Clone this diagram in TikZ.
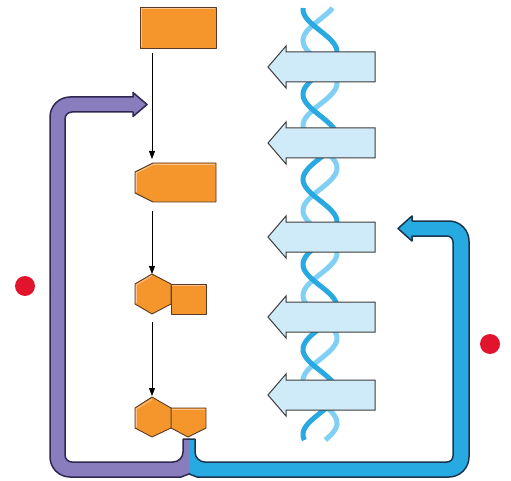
\documentclass[tikz,border=0pt]{standalone}
\usetikzlibrary{arrows.meta}
\definecolor{orng}{HTML}{F4962C}
\definecolor{orngline}{HTML}{5A3A22}
\definecolor{ornghi}{HTML}{FBC48C}
\definecolor{boxfill}{HTML}{CFEBFA}
\definecolor{boxline}{HTML}{3C3C3C}
\definecolor{dnadark}{HTML}{29A9E1}
\definecolor{dnalight}{HTML}{7FD0F4}
\definecolor{purp}{HTML}{8A7DBE}
\definecolor{purpline}{HTML}{2E2850}
\definecolor{blu}{HTML}{27AAE1}
\definecolor{bluline}{HTML}{1B3550}
\definecolor{reddot}{HTML}{E2142D}
\begin{document}
\begin{tikzpicture}[x=1pt,y=-1pt,
  mol/.style={fill=orng, draw=orngline, line width=0.9pt, line join=round},
  hilite/.style={draw=ornghi, line width=0.9pt, line join=round},
  gene/.style={fill=boxfill, draw=boxline, line width=1pt, line join=miter},
  flow/.style={-{Triangle[length=8pt,width=6pt]}, line width=0.8pt, black},
  strand/.style={line width=5pt},
  band/.style={line width=1.5pt, line join=round},
  dot/.style={circle, fill=reddot, minimum size=20pt, inner sep=0pt}]
\useasboundingbox (0,0) rectangle (511,481);
\fill[white] (0,0) rectangle (511,481);

% DNA double helix
\draw[strand, dnalight] plot[domain=8:440, samples=300, variable=\t]
  ({320+17*sin(4.23529*(\t+23.2))}, \t);
\draw[strand, dnadark] plot[domain=8:440, samples=300, variable=\t]
  ({320+17*sin(4.23529*(\t+23.2)+132)}, \t);

% gene arrows
\foreach \c in {67,143,237,317,395}
  \draw[gene] (268,\c) -- (286,\c-21) -- (286,\c-15) -- (375,\c-15)
     -- (375,\c+15) -- (286,\c+15) -- (286,\c+21) -- cycle;

% purple feedback band
\draw[band, fill=purp, draw=purpline]
  (189,439) -- (183,439) -- (183,452) .. controls (183,457.5) and (178.5,462) .. (173,462)
  -- (72,462) .. controls (68.1,462) and (65,458.9) .. (65,455)
  -- (65,119) .. controls (65,115.1) and (68.1,112) .. (72,112)
  -- (133,112) -- (133,116.5) -- (147,104.5) -- (133,92.5) -- (133,97)
  -- (70,97) .. controls (59,97) and (50,106) .. (50,117)
  -- (50,457) .. controls (50,468) and (59,477) .. (70,477)
  -- (181,477) -- (189,474) -- cycle;

% blue feedback band
\draw[band, fill=blu, draw=bluline]
  (189,439) -- (195,439) -- (195,452) .. controls (195,457.5) and (199.5,462) .. (205,462)
  -- (447,462) .. controls (450.3,462) and (453,459.3) .. (453,456)
  -- (453,242) .. controls (453,238.7) and (450.3,236) .. (447,236)
  -- (412,236) -- (412,241) -- (398,228.5) -- (412,216) -- (412,221)
  -- (449,221) .. controls (460,221) and (469,230) .. (469,241)
  -- (469,457) .. controls (469,468) and (460,477) .. (449,477)
  -- (197,477) -- (189,474) -- cycle;
\fill[purp] (187.5,440.2) rectangle (189,473.2);
\fill[blu] (189,440.2) rectangle (190.5,473.2);

% molecules
\draw[mol] (140,7) rectangle (216,48);
\draw[hilite] (141.4,46.6) -- (141.4,8.4) -- (214.6,8.4);
\draw[mol] (153,163) -- (216,163) -- (216,202) -- (153,202) -- (135,193) -- (135,172) -- cycle;
\draw[hilite] (136.4,192) -- (136.4,172.8) -- (153.3,164.4) -- (214.6,164.4);
\draw[mol] (171,284) -- (206,284) -- (206,314) -- (171,314) -- cycle;
\draw[hilite] (172.4,285.4) -- (204.6,285.4);
\draw[mol] (152,274) -- (171,284) -- (171,304) -- (152,314) -- (135,304) -- (135,284) -- cycle;
\draw[hilite] (136.4,303) -- (136.4,284.8) -- (152,275.6);
\draw[mol] (171,408) -- (206,408) -- (206,428) -- (188,437) -- (171,428) -- cycle;
\draw[hilite] (172.4,409.4) -- (204.6,409.4);
\draw[mol] (152,397) -- (171,408) -- (171,428) -- (152,437) -- (135,428) -- (135,408) -- cycle;
\draw[hilite] (136.4,427) -- (136.4,408.8) -- (152,399.6);

% connector anchors
\coordinate (m1b) at (152,53);
\coordinate (m2t) at (152,159);
\coordinate (m2b) at (152,211);
\coordinate (m3t) at (152,274);
\coordinate (m3b) at (152,322);
\coordinate (m4t) at (152,396);
\draw[flow] (m1b) -- (m2t);
\draw[flow] (m2b) -- (m3t);
\draw[flow] (m3b) -- (m4t);

% red dots
\node[dot] (d1) at (25,286) {};
\node[dot] (d2) at (490,344) {};
\end{tikzpicture}
\end{document}
